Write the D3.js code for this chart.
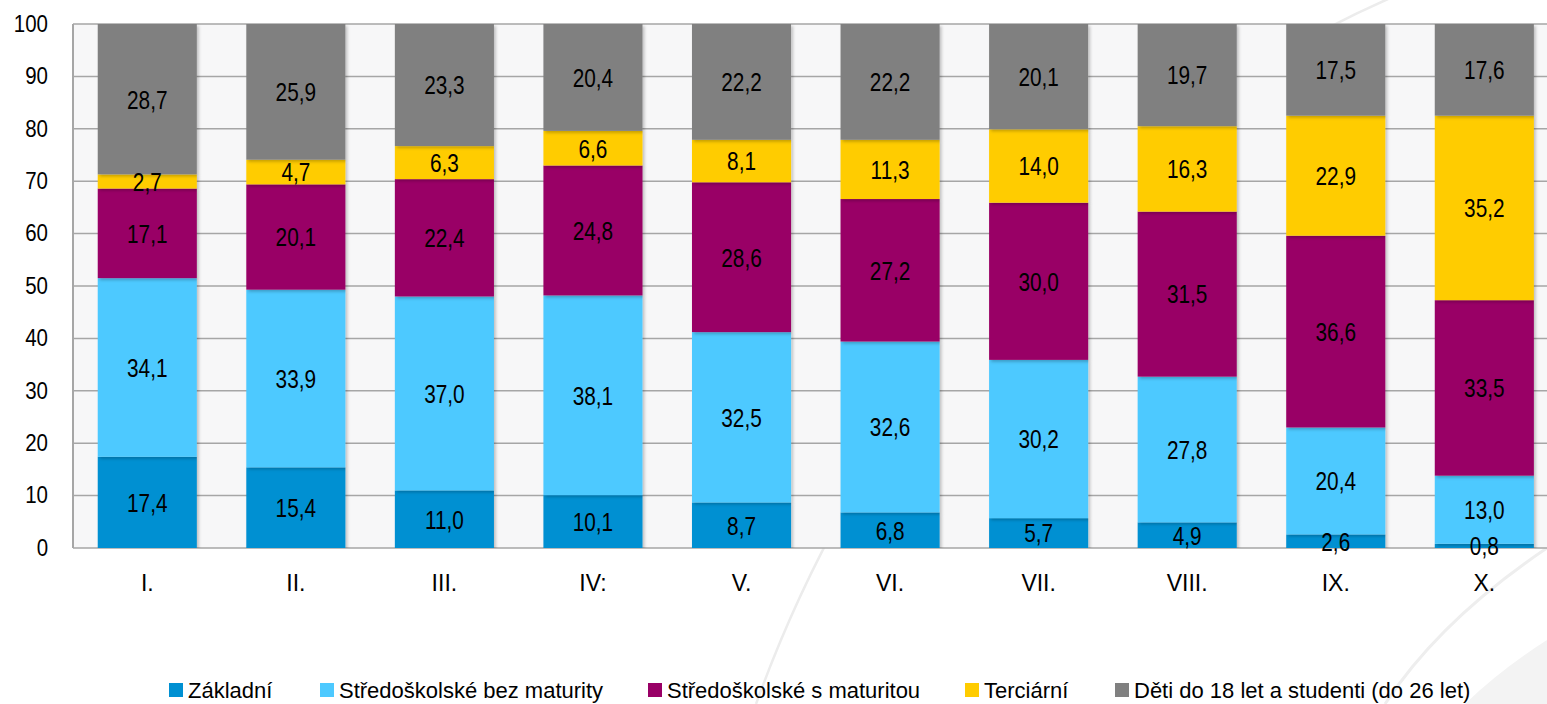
<!DOCTYPE html>
<html><head><meta charset="utf-8">
<script src="https://cdn.jsdelivr.net/npm/d3@7"></script>
<style>
html,body{margin:0;padding:0;background:#fff;}
svg{display:block;font-family:"Liberation Sans",Arial,sans-serif;}
</style></head>
<body><svg id="c" width="1547" height="704"></svg>
<script>
const categories = ["I.","II.","III.","IV:","V.","VI.","VII.","VIII.","IX.","X."];
const seriesNames = ["Základní","Středoškolské bez maturity","Středoškolské s maturitou","Terciární","Děti do 18 let a studenti (do 26 let)"];
const zakladni   = [17.4,15.4,11.0,10.1,8.7,6.8,5.7,4.9,2.6,0.8];
const ssBez      = [34.1,33.9,37.0,38.1,32.5,32.6,30.2,27.8,20.4,13.0];
const ssS        = [17.1,20.1,22.4,24.8,28.6,27.2,30.0,31.5,36.6,33.5];
const terciarni  = [2.7,4.7,6.3,6.6,8.1,11.3,14.0,16.3,22.9,35.2];
const deti       = [28.7,25.9,23.3,20.4,22.2,22.2,20.1,19.7,17.5,17.6];
const yTicks = [0,10,20,30,40,50,60,70,80,90,100];
const colors = ["#0090D2","#4DC9FF","#990066","#FFCC00","#808080"];

const seriesVals = [zakladni, ssBez, ssS, terciarni, deti];
const keys = ["s0","s1","s2","s3","s4"];
const table = categories.map((c,i)=>{const o={cat:c}; keys.forEach((k,j)=>o[k]=seriesVals[j][i]); return o;});

const svg = d3.select("#c");
const m = {l:73, t:24, b:548};
const W = 1547;
const x = d3.scaleBand().domain(categories).range([m.l, m.l+1485.6]).paddingInner(0.333).paddingOuter(0.1665);
const y = d3.scaleLinear().domain([0,100]).range([m.b, m.t]);

const defs = svg.append("defs");
const f = defs.append("filter").attr("id","sh").attr("x","-10%").attr("y","-10%").attr("width","130%").attr("height","130%");
f.append("feDropShadow").attr("dx",2).attr("dy",2).attr("stdDeviation",1.5).attr("flood-color","#000").attr("flood-opacity",0.22);
defs.append("clipPath").attr("id","clip").append("rect").attr("x",m.l).attr("y",m.t).attr("width",W-m.l).attr("height",m.b-m.t);

// decorative faint background shapes
svg.append("path").attr("d","M1547,640 Q1500,670 1465,704 L1547,704 Z").attr("fill","#f3f3f3");
svg.append("path").attr("d","M1547,548 Q1440,620 1385,704").attr("fill","none").attr("stroke","#eeeeee").attr("stroke-width",3);
svg.append("path").attr("d","M1395,-4 C1130,110 880,360 756,704").attr("fill","none").attr("stroke","#ececec").attr("stroke-width",2.5);

// plot bg
svg.append("rect").attr("x",m.l).attr("y",m.t).attr("width",W-m.l).attr("height",m.b-m.t).attr("fill","#f7f7f8");

// grid
svg.append("g").selectAll("line").data(yTicks).join("line")
  .attr("x1",m.l).attr("x2",W).attr("y1",d=>y(d)).attr("y2",d=>y(d))
  .attr("stroke","#a6a6a6").attr("stroke-width",1.5);
svg.append("line").attr("x1",m.l).attr("x2",m.l).attr("y1",m.t).attr("y2",m.b).attr("stroke","#a6a6a6").attr("stroke-width",2);

// y axis labels (narrowed)
const kY = 0.89;
const yAxis = d3.axisLeft(y).tickValues(yTicks).tickSize(0).tickPadding(25);
const yg = svg.append("g").attr("transform",`translate(${m.l},0)`).call(yAxis);
yg.select(".domain").remove();
yg.selectAll("text").attr("font-size",23).attr("fill","#000").attr("font-family","inherit")
  .attr("x",-25/kY).attr("transform",`scale(${kY},1)`);

// bars
const stack = d3.stack().keys(keys);
const st = stack(table);
const gBars = svg.append("g").attr("clip-path","url(#clip)");
st.forEach((layer,li)=>{
  gBars.append("g").attr("fill",colors[li]).attr("filter","url(#sh)").selectAll("rect").data(layer).join("rect")
    .attr("x",d=>x(d.data.cat)).attr("width",x.bandwidth())
    .attr("y",d=>y(Math.min(100,d[1]))).attr("height",d=>y(d[0])-y(Math.min(100,d[1])));
});
// labels (narrowed)
const kL = 0.8;
st.forEach((layer,li)=>{
  svg.append("g").selectAll("text").data(layer).join("text")
    .attr("transform",d=>`translate(${x(d.data.cat)+x.bandwidth()/2},${(y(d[0])+y(Math.min(100,d[1])))/2}) scale(${kL},1)`)
    .attr("dy","0.36em").attr("text-anchor","middle").attr("font-size",26).attr("fill","#000")
    .text(d=>d3.format(".1f")(d[1]-d[0]).replace(".",","));
});

// x axis labels
const xAxis = d3.axisBottom(x).tickSize(0).tickPadding(27);
const xg = svg.append("g").attr("transform",`translate(0,${m.b})`).call(xAxis);
xg.select(".domain").remove();
xg.selectAll("text").attr("font-size",23).attr("fill","#000").attr("font-family","inherit");

// legend
const legX = [169,320,648,965,1115];
const lg = svg.append("g");
seriesNames.forEach((n,i)=>{
  lg.append("rect").attr("x",legX[i]).attr("y",683).attr("width",14).attr("height",14).attr("fill",colors[i]);
  lg.append("text").attr("x",legX[i]+19).attr("y",698).attr("font-size",22).attr("fill","#000").text(n);
});
</script></body></html>
